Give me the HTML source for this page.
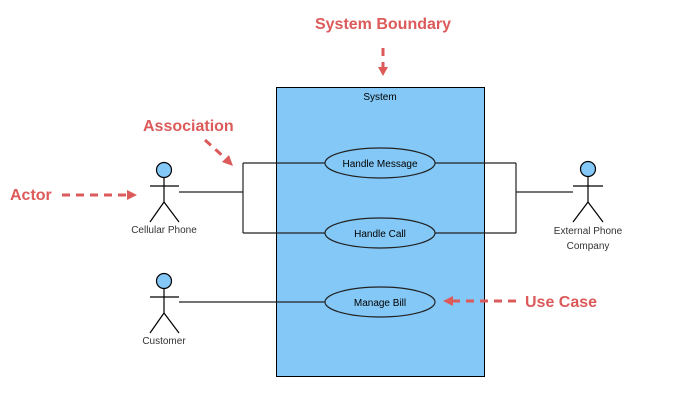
<!DOCTYPE html>
<html><head><style>body{margin:0;background:#fff}svg{display:block}</style></head><body>
<svg width="698" height="401" xmlns="http://www.w3.org/2000/svg" font-family="Liberation Sans, sans-serif">
<rect x="276.5" y="87.5" width="208" height="289" fill="#83c8f6" stroke="#000"/>
<text x="380" y="100" font-size="10" text-anchor="middle">System</text>
<g stroke="#222" stroke-width="1.2" fill="none">
<path d="M179 192H243M243 163V233M243 163H325M243 233H325"/>
<path d="M179 302H325"/>
<path d="M435 163H516M435 233H516M516 163V233M516 192H573"/>
</g>
<g fill="#83c8f6" stroke="#222" stroke-width="1.2">
<ellipse cx="380" cy="163" rx="55" ry="15"/>
<ellipse cx="380" cy="233" rx="55" ry="15"/>
<ellipse cx="380" cy="302" rx="55" ry="15"/>
</g>
<g font-size="10" text-anchor="middle" fill="#000">
<text x="380" y="167">Handle Message</text>
<text x="380" y="237">Handle Call</text>
<text x="380" y="306">Manage Bill</text>
</g>
<g stroke="#000" stroke-width="1.2" fill="none">
<circle cx="164" cy="170" r="7.5" fill="#83c8f6"/>
<path d="M150 186H179M164 177V202L150 222M164 202L179 222"/>
<circle cx="164" cy="281" r="7.5" fill="#83c8f6"/>
<path d="M150 297H179M164 288V313L150 333M164 313L179 333"/>
<circle cx="588" cy="169" r="7.5" fill="#83c8f6"/>
<path d="M573 186H603M588 176V202L573 222M588 202L603 222"/>
</g>
<g font-size="10" text-anchor="middle" fill="#333">
<text x="164" y="233">Cellular Phone</text>
<text x="164" y="344">Customer</text>
<text x="588" y="234">External Phone</text>
<text x="588" y="249">Company</text>
</g>
<g fill="#dc5a5a" font-weight="bold" font-size="16">
<text x="383" y="29" text-anchor="middle">System Boundary</text>
<text x="143" y="131">Association</text>
<text x="10" y="200">Actor</text>
<text x="525" y="307">Use Case</text>
</g>
<g stroke="#dc5a5a" stroke-width="3" fill="none" stroke-dasharray="8,6">
<path d="M383 48V68"/>
<path d="M205 140L225 158"/>
<path d="M62 195H128"/>
<path d="M516 301H452"/>
</g>
<g fill="#dc5a5a">
<path d="M378 67H388L383 76Z"/>
<path d="M222 162L229 155L233 166Z"/>
<path d="M127 190V200L137 195Z"/>
<path d="M453 296V306L443 301Z"/>
</g>
</svg>
</body></html>
